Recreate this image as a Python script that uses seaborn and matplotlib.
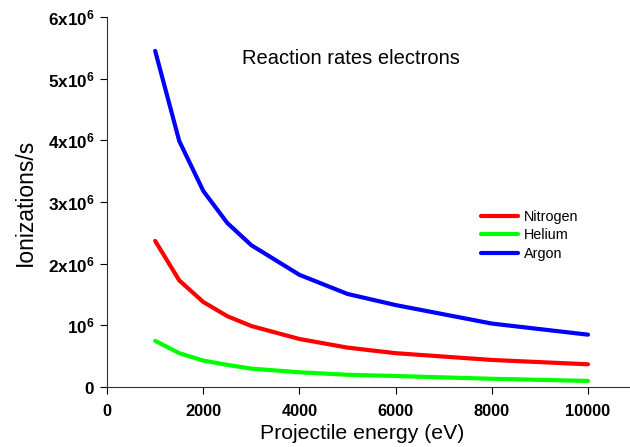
import numpy as np
import pandas as pd
import matplotlib
matplotlib.use("Agg")
import matplotlib.pyplot as plt
import seaborn as sns

energy = [1000, 1500, 2000, 2500, 3000, 4000, 5000, 6000, 8000, 10000]
nitrogen = [2.37e6, 1.73e6, 1.38e6, 1.15e6, 0.99e6, 0.78e6, 0.64e6, 0.55e6, 0.44e6, 0.37e6]
helium = [0.75e6, 0.55e6, 0.43e6, 0.36e6, 0.30e6, 0.24e6, 0.20e6, 0.18e6, 0.135e6, 0.10e6]
argon = [5.45e6, 3.99e6, 3.18e6, 2.66e6, 2.30e6, 1.82e6, 1.51e6, 1.33e6, 1.03e6, 0.85e6]
series_names = ["Nitrogen", "Helium", "Argon"]
colors = ["#ff0000", "#00ff00", "#0000ff"]
y_ticks = [0, 1e6, 2e6, 3e6, 4e6, 5e6, 6e6]
y_ticklabels = [r"$\mathbf{0}$", r"$\mathbf{10^{6}}$", r"$\mathbf{2x10^{6}}$", r"$\mathbf{3x10^{6}}$",
                r"$\mathbf{4x10^{6}}$", r"$\mathbf{5x10^{6}}$", r"$\mathbf{6x10^{6}}$"]
x_ticks = [0, 2000, 4000, 6000, 8000, 10000]

df = pd.DataFrame({
    "energy": energy * 3,
    "rate": nitrogen + helium + argon,
    "gas": [series_names[0]] * len(energy) + [series_names[1]] * len(energy) + [series_names[2]] * len(energy),
})

sns.set_style("ticks")
plt.rcParams["font.family"] = ["Liberation Sans", "DejaVu Sans"]
plt.rcParams["mathtext.fontset"] = "custom"
plt.rcParams["mathtext.bf"] = "Liberation Sans:bold"
plt.rcParams["mathtext.rm"] = "Liberation Sans"
plt.rcParams["text.color"] = "black"
plt.rcParams["axes.labelcolor"] = "black"

fig = plt.figure(figsize=(6.3, 4.47), dpi=100)
ax = fig.add_axes([0.17, 0.134, 0.832, 0.828])

sns.lineplot(data=df, x="energy", y="rate", hue="gas", hue_order=series_names,
             palette=colors, linewidth=3, ax=ax)

ax.set_xlim(0, 10900)
ax.set_ylim(0, 6e6)
ax.set_xticks(x_ticks)
ax.set_xticklabels([str(v) for v in x_ticks], fontweight="bold", fontsize=11.8)
ax.set_yticks(y_ticks)
ax.set_yticklabels(y_ticklabels, fontsize=12.3)
ax.tick_params(direction="out", length=5, width=0.8, colors="black", pad=4)
ax.tick_params(axis="x", pad=7)
for s in ["top", "right"]:
    ax.spines[s].set_visible(False)
for s in ["left", "bottom"]:
    ax.spines[s].set_color("#303030")
    ax.spines[s].set_linewidth(0.8)

ax.set_xlabel("Projectile energy (eV)", fontsize=15.3, color="black")
ax.xaxis.set_label_coords(0.486, -0.1)
ax.set_ylabel("Ionizations/s", fontsize=16.5, labelpad=8, color="black")

ax.text(0.465, 0.889, "Reaction rates electrons", transform=ax.transAxes,
        ha="center", va="center", fontsize=14.5, color="black")

leg = ax.legend(title=None, frameon=False, loc="center left",
                bbox_to_anchor=(0.713, 0.41), fontsize=10.4, borderpad=0, borderaxespad=0,
                handlelength=2.55, handletextpad=0.42, labelspacing=0.3)
for t in leg.get_texts():
    t.set_color("black")

fig.savefig("out.png", dpi=100)
